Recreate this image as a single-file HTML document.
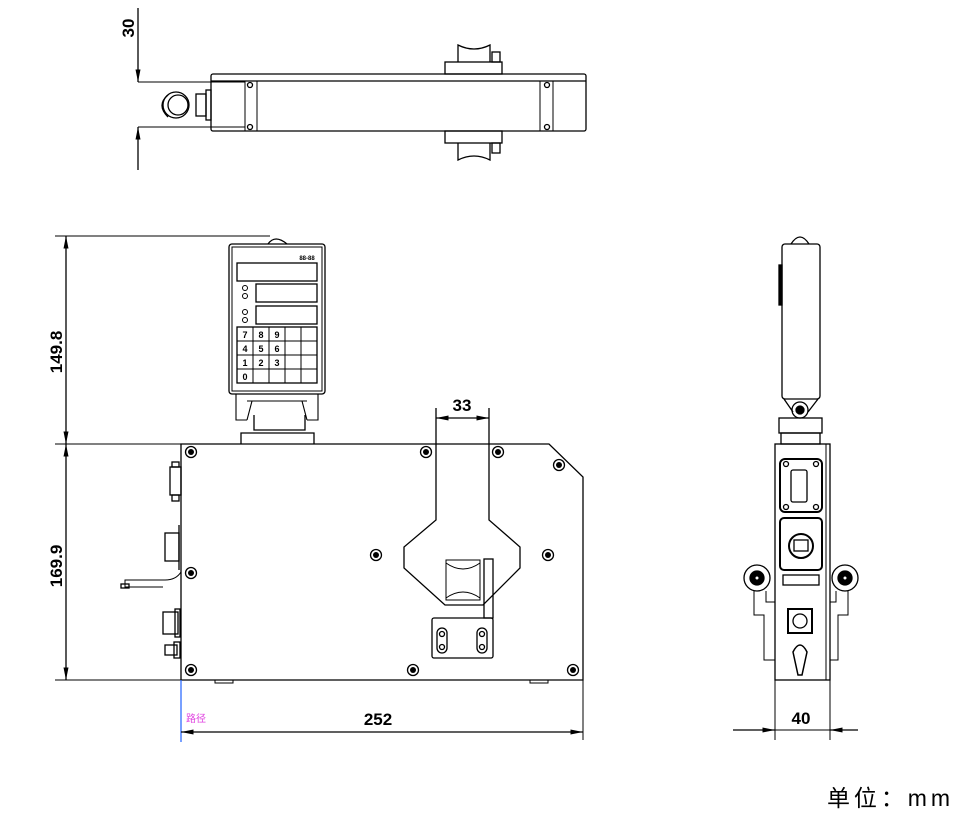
<!DOCTYPE html>
<html><head><meta charset="utf-8"><style>body{margin:0;background:#fff}svg{display:block}text{font-family:"Liberation Sans","Noto Sans CJK SC",sans-serif}</style></head><body>
<svg width="970" height="825" viewBox="0 0 970 825" xmlns="http://www.w3.org/2000/svg">
<defs>
<marker id="a" viewBox="0 0 10 4" refX="10" refY="2" markerWidth="14" markerHeight="5" markerUnits="userSpaceOnUse" orient="auto-start-reverse"><path d="M0,0L10,2L0,4z" fill="#000"/></marker>
<g id="scr"><circle r="5.5" fill="#fff" stroke="#000" stroke-width="1.3"/><circle r="3" fill="#000"/></g>
</defs>
<g fill="none" stroke="#000" stroke-width="1.3">
<line x1="138" y1="8" x2="138" y2="82" marker-end="url(#a)"/>
<line x1="138" y1="170" x2="138" y2="127" marker-end="url(#a)"/>
<line x1="138" y1="82" x2="245" y2="82" stroke-width="1"/>
<line x1="138" y1="127" x2="245" y2="127" stroke-width="1"/>
<rect x="211" y="74" width="375" height="57" rx="2"/>
<line x1="211" y1="81" x2="586" y2="81"/>
<line x1="245" y1="81" x2="245" y2="131" stroke-width="1"/><line x1="257" y1="81" x2="257" y2="131" stroke-width="1"/>
<line x1="540" y1="81" x2="540" y2="131" stroke-width="1"/><line x1="553" y1="81" x2="553" y2="131" stroke-width="1"/>
<circle cx="250" cy="85" r="2.5"/><circle cx="250" cy="127" r="2.5"/><circle cx="547" cy="85" r="2.5"/><circle cx="547" cy="127" r="2.5"/>
<rect x="445" y="62" width="57" height="12"/><rect x="445" y="131" width="57" height="12"/>
<path d="M458,62V45Q474,53 490,45V62M458,143V160Q474,152 490,160V143"/>
<rect x="492" y="52" width="8" height="10"/><rect x="492" y="143" width="8" height="10"/>
<circle cx="176" cy="105" r="13"/><circle cx="178" cy="105" r="10"/>
<path d="M168,95Q156,105 168,117"/>
<rect x="196" y="94" width="10" height="22"/><rect x="206" y="90" width="5" height="30"/>
<line x1="66" y1="236" x2="66" y2="444" marker-start="url(#a)" marker-end="url(#a)"/>
<line x1="66" y1="444" x2="66" y2="680" marker-start="url(#a)" marker-end="url(#a)"/>
<line x1="55" y1="236" x2="270" y2="236" stroke-width="1"/>
<line x1="55" y1="444" x2="181" y2="444" stroke-width="1"/>
<line x1="55" y1="680" x2="181" y2="680" stroke-width="1"/>
<path d="M181,444H549L583,477V680H181Z"/>
<path d="M215,680v3h18v-3M530,680v3h18v-3" stroke-width="1"/>
<path d="M268,244Q275,234 287,244"/>
<rect x="229" y="244" width="96" height="150" rx="3"/>
<rect x="232" y="247" width="90" height="144" stroke-width="1"/>
<rect x="237" y="263" width="80" height="18"/>
<rect x="256" y="284" width="61" height="18"/>
<rect x="256" y="306" width="61" height="18"/>
<circle cx="245" cy="288" r="2.5" stroke-width="1"/><circle cx="245" cy="296" r="2.5" stroke-width="1"/>
<circle cx="245" cy="312" r="2.5" stroke-width="1"/><circle cx="245" cy="320" r="2.5" stroke-width="1"/>
<rect x="237" y="327" width="80" height="56"/>
<path d="M253,327V383M269,327V383M285,327V383M301,327V383M237,341H317M237,355H317M237,369H317" stroke-width="1"/>
<path d="M236,394V420H247M318,394V420H307M247,401H307M252,401L247,420M302,401L307,420" stroke-width="1.1"/>
<path d="M254,415V430H305V415M241,444V433H314V444"/>
<path d="M436,408V520L404,547V568L445,605H483L520,568V547L489,520V408" />
<line x1="462" y1="418" x2="436" y2="418" marker-end="url(#a)"/>
<line x1="462" y1="418" x2="489" y2="418" marker-end="url(#a)"/>
<path d="M446,560H480V600H446Z" stroke-width="1"/>
<path d="M446,563Q463,575 480,563M446,598Q463,586 480,598" stroke-width="1"/>
<rect x="484" y="559" width="9" height="59"/>
<rect x="432" y="618" width="61" height="40" rx="2"/>
<rect x="437" y="628" width="10" height="25" rx="5"/><rect x="477" y="628" width="10" height="25" rx="5"/>
<circle cx="442" cy="634" r="2.5"/><circle cx="482" cy="634" r="2.5"/><circle cx="442" cy="647" r="2.5"/><circle cx="482" cy="647" r="2.5"/>
<rect x="170" y="467" width="11" height="28"/><rect x="172" y="462" width="7" height="5"/><rect x="172" y="495" width="7" height="6"/>
<rect x="165" y="533" width="14" height="28"/><path d="M179,525V570"/>
<path d="M181,572Q176,580 165,580H125V587H163" stroke-width="1"/>
<rect x="121" y="584" width="8" height="4"/>
<rect x="163" y="612" width="15" height="22"/><rect x="175" y="609" width="5" height="28"/>
<rect x="165" y="645" width="12" height="10"/><rect x="174" y="642" width="6" height="16"/>
<line x1="181" y1="680" x2="181" y2="742" stroke="#1e62ff" stroke-width="1.2"/>
<line x1="583" y1="680" x2="583" y2="740" stroke-width="1"/>
<line x1="181" y1="732" x2="583" y2="732" marker-start="url(#a)" marker-end="url(#a)"/>
<path d="M791,244Q800,230 809,244"/>
<rect x="782" y="244" width="38" height="155" rx="3"/>
<rect x="779" y="265" width="3" height="40" fill="#000"/>
<path d="M784,399L793,412M818,399L808,412"/>
<circle cx="800" cy="410" r="8"/><circle cx="800" cy="410" r="4" fill="#000"/>
<rect x="779" y="418" width="43" height="15"/><rect x="781" y="433" width="39" height="11"/>
<rect x="775" y="444" width="55" height="236"/><line x1="826" y1="444" x2="826" y2="680" stroke-width="1"/>
<rect x="780" y="459" width="42" height="53" rx="5" stroke-width="2"/>
<rect x="791" y="470" width="16" height="32" rx="2"/>
<circle cx="786" cy="464" r="2.5"/><circle cx="816" cy="464" r="2.5"/><circle cx="786" cy="507" r="2.5"/><circle cx="816" cy="507" r="2.5"/>
<rect x="780" y="518" width="42" height="52" rx="4" stroke-width="2"/>
<circle cx="801" cy="546" r="12" stroke-width="2"/><rect x="794" y="540" width="14" height="11"/>
<rect x="783" y="575" width="36" height="10"/>
<rect x="788" y="609" width="24" height="24" stroke-width="2"/><circle cx="800" cy="621" r="7"/>
<path d="M793,652Q800,638 807,652L802,675H798Z" stroke-width="1.5"/>
<circle cx="757" cy="578" r="13"/><circle cx="757" cy="578" r="7" fill="#000"/><circle cx="757" cy="578" r="1.5" fill="#fff" stroke="none"/>
<circle cx="845" cy="578" r="13"/><circle cx="845" cy="578" r="7" fill="#000"/><circle cx="845" cy="578" r="1.5" fill="#fff" stroke="none"/>
<path d="M754,591V615H764V660H775M766,591V602H775M848,591V615H838V660H830M836,591V602H830" stroke-width="1"/>
<line x1="775" y1="680" x2="775" y2="740" stroke-width="1"/><line x1="830" y1="680" x2="830" y2="740" stroke-width="1"/>
<line x1="733" y1="730" x2="775" y2="730" marker-end="url(#a)"/>
<line x1="858" y1="730" x2="830" y2="730" marker-end="url(#a)"/>
<line x1="775" y1="730" x2="830" y2="730" stroke-width="1"/>
</g>
<g fill="#fff">
<use href="#scr" x="191" y="452"/><use href="#scr" x="426" y="452"/><use href="#scr" x="498" y="452"/><use href="#scr" x="559" y="465"/>
<use href="#scr" x="376" y="555"/><use href="#scr" x="548" y="555"/><use href="#scr" x="191" y="573"/>
<use href="#scr" x="191" y="670"/><use href="#scr" x="413" y="670"/><use href="#scr" x="573" y="670"/>
</g>
<g font-size="9" font-weight="bold" text-anchor="middle">
<text x="245" y="338">7</text><text x="261" y="338">8</text><text x="277" y="338">9</text>
<text x="245" y="352">4</text><text x="261" y="352">5</text><text x="277" y="352">6</text>
<text x="245" y="366">1</text><text x="261" y="366">2</text><text x="277" y="366">3</text>
<text x="245" y="380">0</text><text x="307" y="260" font-size="6">88-88</text>
</g>
<g font-size="17" font-weight="bold" text-anchor="middle">
<text transform="translate(134,28) rotate(-90)">30</text>
<text transform="translate(62,352) rotate(-90)">149.8</text>
<text transform="translate(62,566) rotate(-90)">169.9</text>
<text x="462" y="411">33</text>
<text x="378" y="725">252</text>
<text x="801" y="724">40</text>
</g>
<text x="186" y="722" font-size="10" fill="#e040e0">路径</text>
<text x="827" y="806" font-size="23" textLength="123" lengthAdjust="spacing">单位：mm</text>
</svg>
</body></html>
